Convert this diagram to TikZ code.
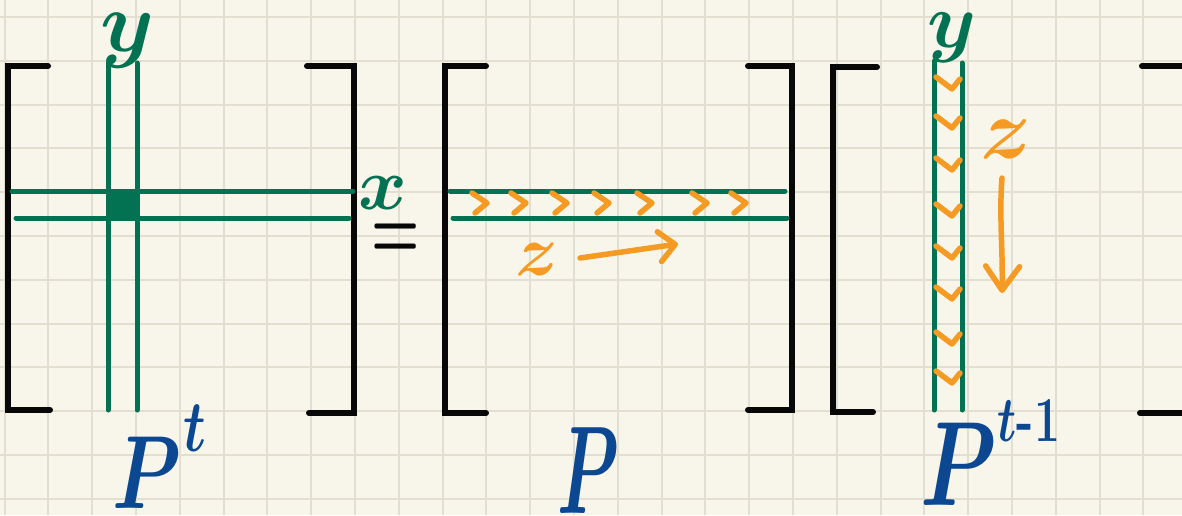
\RequirePackage{fix-cm}
\documentclass[tikz,border=0pt]{standalone}
\usetikzlibrary{arrows.meta}

\definecolor{paper}{RGB}{248,246,234}
\definecolor{gridgrey}{RGB}{226,223,209}
\definecolor{inkgreen}{RGB}{2,114,82}
\definecolor{inkorange}{RGB}{245,155,36}
\definecolor{inkblue}{RGB}{12,72,146}
\definecolor{inkblack}{RGB}{8,8,8}

% bold math symbol, kept inside its own group
\newcommand{\hbm}[1]{{\boldmath$#1$}}

\tikzset{
  gridline/.style={gridgrey, line width=2pt},
  bracket/.style={inkblack, line width=6pt, line cap=round, line join=miter},
  rowcol/.style={inkgreen, line width=5pt, line cap=round},
  pen/.style={inkorange, line width=5.5pt, line cap=round, line join=round},
  handtext/.style={inner sep=0pt, outer sep=0pt},
}

\begin{document}
\begin{tikzpicture}[x=1pt, y=-1pt]
  % paper and squared grid
  \fill[paper] (0,0) rectangle (1182,515);
  \useasboundingbox (0,0) rectangle (1182,515);
  \foreach \i in {0,...,26} \draw[gridline] ({4.5+43.8*\i},0) -- ({4.5+43.8*\i},515);
  \foreach \j in {0,...,11} \draw[gridline] (0,{17+43.8*\j}) -- (1182,{17+43.8*\j});

  % ---------- first matrix: P^t ----------
  \draw[bracket] (48,66) -- (8,66) -- (8,410) -- (50,410);
  \draw[bracket] (307,66) -- (354,66) -- (354,413) -- (309,413);
  \fill[inkgreen] (108,191) rectangle (137,218);
  \draw[rowcol] (108,63) -- (108,410);
  \draw[rowcol] (137,63) -- (137,410);
  \draw[rowcol] (12,191) -- (353,191);
  \draw[rowcol] (16,218) -- (349,218);
  \node[handtext, inkgreen, font=\fontsize{86}{86}\selectfont] (ylabA) at (127,41) {\hbm{y}};
  \node[handtext, inkblue, anchor=base west, xscale=0.75, font=\fontsize{104}{104}\selectfont]
    (PlabA) at (112,508) {\hbm{P}\kern4pt\raisebox{57pt}{\fontsize{73}{73}\selectfont\hbm{t}}};

  % ---------- row label and equals sign ----------
  \node[handtext, inkgreen, font=\fontsize{74}{74}\selectfont] (xlab) at (383,193) {\hbm{x}};
  \node[handtext, inkblack, xscale=0.6, font=\fontsize{92}{92}\selectfont] (eqsign) at (396,242) {\hbm{=}};

  % ---------- second matrix: P ----------
  \draw[bracket] (486,66) -- (445,66) -- (445,413) -- (486,413);
  \draw[bracket] (748,66) -- (792,66) -- (792,410) -- (748,410);
  \draw[rowcol] (450,191) -- (785,191);
  \draw[rowcol] (453,218) -- (787,218);
  \foreach \cx in {480,519,560,602,645,700,739}
    \draw[pen] (\cx-8,193) -- (\cx+7,203) -- (\cx-5,213);
  \node[handtext, inkorange, font=\fontsize{72}{72}\selectfont] (zlabB) at (537,259) {\hbm{z}};
  \coordinate (zB-from) at (580,258);
  \coordinate (zB-to) at (678,244);
  \draw[pen, -{Straight Barb[round, length=16pt, width=30pt]}] (zB-from) -- (zB-to);
  \node[handtext, inkblue, anchor=base west, xscale=0.56, font=\fontsize{125}{125}\selectfont]
    (PlabB) at (557,513) {\hbm{P}};

  % ---------- third matrix: P^{t-1} ----------
  \draw[bracket] (877,67) -- (833,67) -- (833,412) -- (873,412);
  \draw[bracket] (1142,66) -- (1188,66) -- (1188,413) -- (1140,413);
  \draw[rowcol] (934,61) -- (934,410);
  \draw[rowcol] (962,63) -- (962,410);
  \foreach \cy in {83,122,164,210,252,293,338,377}
    \draw[pen] (936,\cy-6) -- (952,\cy+6) -- (960,\cy-4);
  \node[handtext, inkgreen, font=\fontsize{78}{78}\selectfont] (ylabC) at (952,38) {\hbm{y}};
  \node[handtext, inkorange, font=\fontsize{86}{86}\selectfont] (zlabC) at (1006,139) {\hbm{z}};
  \coordinate (zC-from) at (1002,178);
  \coordinate (zC-to) at (1002,293);
  \draw[pen, -{Straight Barb[round, length=24pt, width=34pt]}]
    (zC-from) .. controls (999,215) and (1003,250) .. (zC-to);
  \node[handtext, inkblue, anchor=base west, xscale=0.72, font=\fontsize{120}{120}\selectfont]
    (PlabC) at (920,505) {\hbm{P}\kern2pt\raisebox{64pt}{\fontsize{64}{64}\selectfont\hbm{t}\textbf{-1}}};
\end{tikzpicture}
\end{document}
